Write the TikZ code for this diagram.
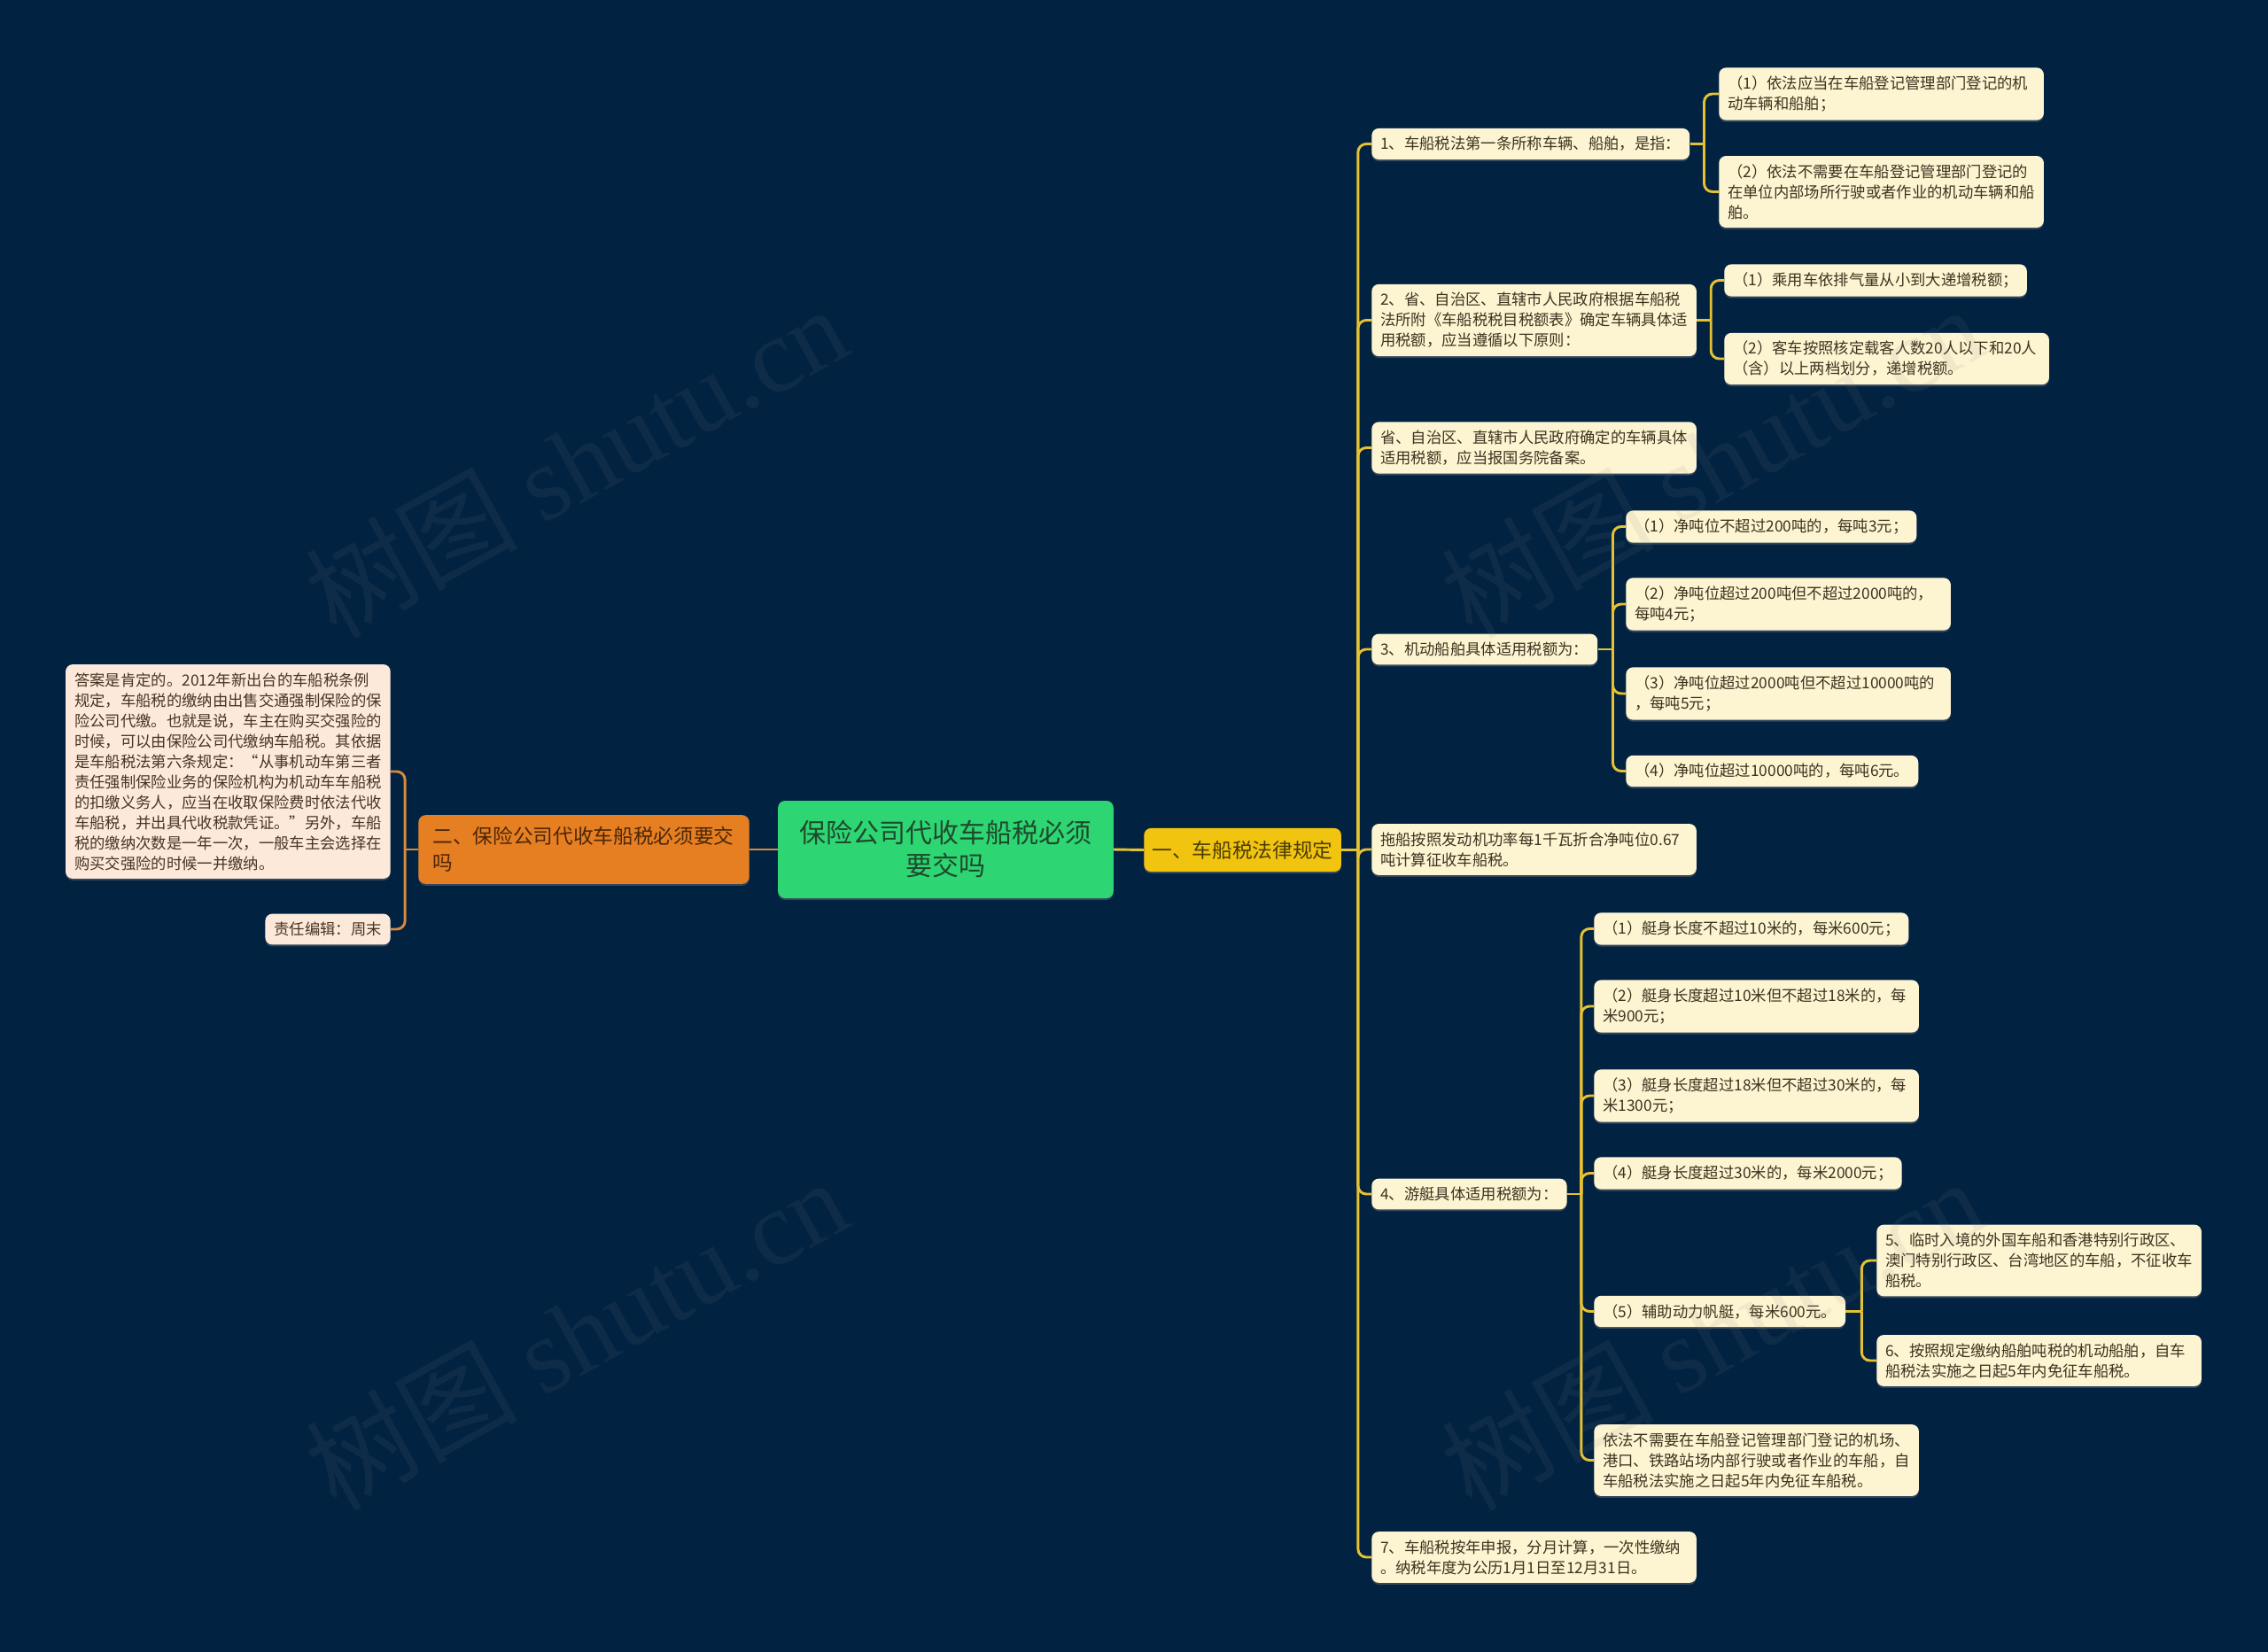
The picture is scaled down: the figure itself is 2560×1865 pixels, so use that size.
\documentclass[tikz,border=0pt]{standalone}
\usepackage{fontspec}
\usepackage{xcolor}
\usepackage{tikz}
\usetikzlibrary{positioning,shadows}
\newfontfamily\cjk{Noto Sans CJK SC}
\newfontfamily\wmlatin{Liberation Serif}
\definecolor{bgcol}{HTML}{022242}
\definecolor{leafcol}{HTML}{FDF4D1}
\definecolor{leaftxt}{HTML}{3A3420}
\definecolor{lleafcol}{HTML}{FCE9DA}
\definecolor{lleaftxt}{HTML}{4A3320}
\definecolor{rootcol}{HTML}{2ED573}
\definecolor{roottxt}{HTML}{1E4A2C}
\definecolor{inscol}{HTML}{E67E22}
\definecolor{instxt}{HTML}{4B2708}
\definecolor{lawcol}{HTML}{F1C40F}
\definecolor{lawtxt}{HTML}{4A3B05}
\definecolor{ylinecol}{HTML}{E6C232}
\definecolor{olinecol}{HTML}{D8893C}

\begin{document}
\begin{tikzpicture}[x=0.75pt, y=-0.75pt,
  every node/.style={font=\cjk},
  shade/.style={drop shadow={shadow xshift=0pt, shadow yshift=-1.5pt, opacity=0.4}},
  leafbox/.style={shade, fill=leafcol, text=leaftxt, rounded corners=6pt,
    font=\cjk\fontsize{13pt}{17.25pt}\selectfont, inner xsep=7.5pt, inner ysep=7pt,
    align=left, anchor=west},
  wide/.style={text width=260pt},
  lleaf/.style={leafbox, fill=lleafcol, text=lleaftxt, anchor=east},
  mainbox/.style={shade, rounded corners=6pt, font=\cjk\fontsize{17pt}{22.5pt}\selectfont, align=left},
  ylink/.style={draw=ylinecol, line width=2.2pt, rounded corners=7pt},
  olink/.style={draw=olinecol, line width=2.2pt, rounded corners=7pt},
  wmark/.style={text=gray, opacity=0.1, rotate=29, font=\cjk\fontsize{90pt}{90pt}\selectfont}]

  \fill[bgcol] (0,0) rectangle (2560,1865);
  \useasboundingbox (0,0) rectangle (2560,1865);

  % centre and first level
  \node[shade, fill=rootcol, text=roottxt, rounded corners=6pt, align=center,
    font=\cjk\fontsize{22.5pt}{27.75pt}\selectfont, minimum width=284pt, minimum height=82.5pt]
    (root) at (1067.5,959) {保险公司代收车船税必须\\要交吗};
  \node[mainbox, fill=inscol, text=instxt, text width=256pt, inner xsep=12pt, inner ysep=10pt, anchor=east]
    (ins) at (846,959) {二、保险公司代收车船税必须要交\\吗};
  \node[mainbox, fill=lawcol, text=lawtxt, inner xsep=7pt, inner ysep=10.5pt, anchor=west]
    (law) at (1291,959.5) {一、车船税法律规定};

  % left branch
  \node[lleaf, wide] (ans) at (441,871) {答案是肯定的。2012年新出台的车船税条例\\规定，车船税的缴纳由出售交通强制保险的保\\险公司代缴。也就是说，车主在购买交强险的\\时候，可以由保险公司代缴纳车船税。其依据\\是车船税法第六条规定：“从事机动车第三者\\责任强制保险业务的保险机构为机动车车船税\\的扣缴义务人，应当在收取保险费时依法代收\\车船税，并出具代收税款凭证。”另外，车船\\税的缴纳次数是一年一次，一般车主会选择在\\购买交强险的时候一并缴纳。};
  \node[lleaf] (editor) at (441,1049) {责任编辑：周末};

  % right branch
  \node[leafbox] (def) at (1548,162.5) {1、车船税法第一条所称车辆、船舶，是指：};
  \node[leafbox, wide] (rate) at (1548,361.5) {2、省、自治区、直辖市人民政府根据车船税\\法所附《车船税税目税额表》确定车辆具体适\\用税额，应当遵循以下原则：};
  \node[leafbox, wide] (file) at (1548,505.5) {省、自治区、直辖市人民政府确定的车辆具体\\适用税额，应当报国务院备案。};
  \node[leafbox] (ship) at (1548,733) {3、机动船舶具体适用税额为：};
  \node[leafbox, wide] (tug) at (1548,959) {拖船按照发动机功率每1千瓦折合净吨位0.67\\吨计算征收车船税。};
  \node[leafbox] (yacht) at (1548,1348) {4、游艇具体适用税额为：};
  \node[leafbox, wide] (pay) at (1548,1758) {7、车船税按年申报，分月计算，一次性缴纳\\。纳税年度为公历1月1日至12月31日。};

  \node[leafbox, wide] (defa) at (1940,106) {（1）依法应当在车船登记管理部门登记的机\\动车辆和船舶；};
  \node[leafbox, wide] (defb) at (1940,216.5) {（2）依法不需要在车船登记管理部门登记的\\在单位内部场所行驶或者作业的机动车辆和船\\舶。};

  \node[leafbox] (ratea) at (1946,316.5) {（1）乘用车依排气量从小到大递增税额；};
  \node[leafbox, wide] (rateb) at (1946,405) {（2）客车按照核定载客人数20人以下和20人\\（含）以上两档划分，递增税额。};

  \node[leafbox] (shipa) at (1835,594.5) {（1）净吨位不超过200吨的，每吨3元；};
  \node[leafbox, wide] (shipb) at (1835,682) {（2）净吨位超过200吨但不超过2000吨的，\\每吨4元；};
  \node[leafbox, wide] (shipc) at (1835,783) {（3）净吨位超过2000吨但不超过10000吨的\\，每吨5元；};
  \node[leafbox] (shipd) at (1835,870.5) {（4）净吨位超过10000吨的，每吨6元。};

  \node[leafbox] (yachta) at (1799,1048.5) {（1）艇身长度不超过10米的，每米600元；};
  \node[leafbox, wide] (yachtb) at (1799,1136) {（2）艇身长度超过10米但不超过18米的，每\\米900元；};
  \node[leafbox, wide] (yachtc) at (1799,1237) {（3）艇身长度超过18米但不超过30米的，每\\米1300元；};
  \node[leafbox] (yachtd) at (1799,1324.5) {（4）艇身长度超过30米的，每米2000元；};
  \node[leafbox] (yachte) at (1799,1480.5) {（5）辅助动力帆艇，每米600元。};
  \node[leafbox, wide] (yachtf) at (1799,1648.5) {依法不需要在车船登记管理部门登记的机场、\\港口、铁路站场内部行驶或者作业的车船，自\\车船税法实施之日起5年内免征车船税。};

  \node[leafbox, wide] (exempta) at (2118,1423) {5、临时入境的外国车船和香港特别行政区、\\澳门特别行政区、台湾地区的车船，不征收车\\船税。};
  \node[leafbox, wide] (exemptb) at (2118,1536) {6、按照规定缴纳船舶吨税的机动船舶，自车\\船税法实施之日起5年内免征车船税。};

  % connectors
  \draw[olink] (root.west) -- (ins.east);
  \draw[ylink] (root.east) -- (law.west);

  \coordinate (jins) at ([xshift=-11.25pt]ins.west);
  \draw[olink] (ins.west) -- (jins);
  \foreach \n in {ans,editor}
    \draw[olink] (jins) |- (\n.east);

  \coordinate (jlaw) at ([xshift=14pt]law.east);
  \draw[ylink] (law.east) -- (jlaw);
  \foreach \n in {def,rate,file,ship,tug,yacht,pay}
    \draw[ylink] (jlaw) |- (\n.west);

  \coordinate (jdef) at ([xshift=12pt]def.east);
  \draw[ylink] (def.east) -- (jdef);
  \foreach \n in {defa,defb}
    \draw[ylink] (jdef) |- (\n.west);

  \coordinate (jrate) at ([xshift=12pt]rate.east);
  \draw[ylink] (rate.east) -- (jrate);
  \foreach \n in {ratea,rateb}
    \draw[ylink] (jrate) |- (\n.west);

  \coordinate (jship) at ([xshift=12.75pt]ship.east);
  \draw[ylink] (ship.east) -- (jship);
  \foreach \n in {shipa,shipb,shipc,shipd}
    \draw[ylink] (jship) |- (\n.west);

  \coordinate (jyacht) at ([xshift=12pt]yacht.east);
  \draw[ylink] (yacht.east) -- (jyacht);
  \foreach \n in {yachta,yachtb,yachtc,yachtd,yachte,yachtf}
    \draw[ylink] (jyacht) |- (\n.west);

  \coordinate (jsail) at ([xshift=13.5pt]yachte.east);
  \draw[ylink] (yachte.east) -- (jsail);
  \foreach \n in {exempta,exemptb}
    \draw[ylink] (jsail) |- (\n.west);

  % watermarks
  \foreach \wx/\wy [count=\i] in {650/520,1932/520,650/1505,1932/1505}
    \node[wmark] (wm\i) at (\wx,\wy) {树图 {\wmlatin shutu.cn}};
\end{tikzpicture}
\end{document}
